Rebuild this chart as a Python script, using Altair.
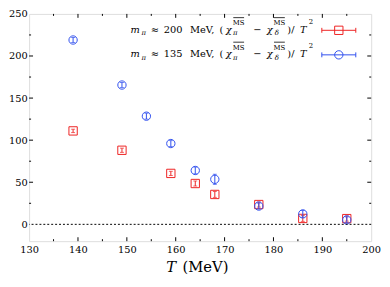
import altair as alt
import pandas as pd

# ---------------- data ----------------
T_200 = [139, 149, 159, 164, 168, 177, 186, 195]
V_200 = [111, 88, 60.5, 48.5, 35.5, 23.5, 7, 6.8]
E_200 = [2, 2.5, 2.5, 3, 3.5, 3, 3.5, 3]

T_135 = [139, 149, 154, 159, 164, 168, 177, 186, 195]
V_135 = [219, 165.5, 128.5, 96, 64, 53.5, 21.7, 12.4, 5.3]
E_135 = [3, 3, 3.5, 3.5, 4, 6, 3.5, 4, 3.5]

X_MAJOR = [130, 140, 150, 160, 170, 180, 190, 200]
X_MINOR = [135, 145, 155, 165, 175, 185, 195]
Y_MAJOR = [0, 50, 100, 150, 200, 250]
Y_MINOR = [25, 75, 125, 175, 225]

LEG_MASS = ["200", "135"]

# ---------------- styles ----------------
RED = "#ee2222"
BLUE = "#2f4fee"
SERIF = "DejaVu Serif"
PLOT_LEFT_PAGE = 29.5
PLOT_RIGHT_PAGE = 378.0
PLOT_TOP_PAGE = 11.5
W, H = PLOT_RIGHT_PAGE - PLOT_LEFT_PAGE, 231.5
REF_TOP_PAGE = 5.0

xs = alt.Scale(domain=[130, 200], nice=False, zero=False)
ys = alt.Scale(domain=[-20, 250], nice=False, zero=False)

xaxis = alt.Axis(values=X_MAJOR, title=None, ticks=False, domain=False, grid=False,
                 labelFont=SERIF, labelFontSize=10, labelColor="black",
                 labelPadding=4, format="d", labelFlush=False)
yaxis = alt.Axis(values=Y_MAJOR, title=None, ticks=False, domain=False, grid=False,
                 labelFont=SERIF, labelFontSize=10, labelColor="black",
                 labelPadding=2, format="d", labelFlush=False)


def X(f):
    return alt.X(f, scale=xs, axis=xaxis, title=None)


def Y(f):
    return alt.Y(f, scale=ys, axis=yaxis, title=None)


def series_df(T, V, E):
    d = pd.DataFrame({"T": T, "v": V, "e": E})
    d["lo"] = d["v"] - d["e"]
    d["hi"] = d["v"] + d["e"]
    return d


d200 = series_df(T_200, V_200, E_200)
d135 = series_df(T_135, V_135, E_135)

layers = []


def series_layers(d, color, shape, size):
    out = []
    out.append(alt.Chart(d).mark_point(shape=shape, filled=False, size=size, color=color,
                                       strokeWidth=1, opacity=1).encode(x=X("T:Q"), y=Y("v:Q")))
    out.append(alt.Chart(d).mark_rule(color=color, strokeWidth=1).encode(
        x=X("T:Q"), y=Y("lo:Q"), y2="hi:Q"))
    for f in ["lo", "hi"]:
        out.append(alt.Chart(d).mark_tick(color=color, orient="horizontal", size=4, thickness=1).encode(
            x=X("T:Q"), y=Y(f + ":Q")))
    return out


layers += series_layers(d200, RED, "square", 72)
layers += series_layers(d135, BLUE, "circle", 72)

# zero dotted line
zero_df = pd.DataFrame({"z": [0]})
layers.append(
    alt.Chart(zero_df).mark_rule(color="black", strokeWidth=1, strokeDash=[2, 2]).encode(y=Y("z:Q"))
)


# frame ticks (inward, all four sides)
def tick_layer(vals, side, length):
    d = pd.DataFrame({"t": vals})
    m = alt.Chart(d).mark_rule(color="black", strokeWidth=1)
    if side == "bottom":
        return m.encode(x=X("t:Q"), y=alt.value(H), y2=alt.value(H - length))
    if side == "top":
        return m.encode(x=X("t:Q"), y=alt.value(0), y2=alt.value(length))
    if side == "left":
        return m.encode(y=Y("t:Q"), x=alt.value(0), x2=alt.value(length))
    return m.encode(y=Y("t:Q"), x=alt.value(W), x2=alt.value(W - length))


for side in ["bottom", "top"]:
    layers.append(tick_layer(X_MAJOR[1:-1], side, 4))
    layers.append(tick_layer(X_MINOR, side, 2))
for side in ["left", "right"]:
    layers.append(tick_layer(Y_MAJOR[1:-1], side, 4))
    layers.append(tick_layer(Y_MINOR, side, 2))

ONE = alt.Data(values=[{}])


def txt(s, px, py, size, italic=False, align="center"):
    kw = dict(text=s, font=SERIF, fontSize=size, align=align, baseline="alphabetic", color="black")
    if italic:
        kw["fontStyle"] = "italic"
    return alt.Chart(ONE).mark_text(**kw).encode(x=alt.value(px), y=alt.value(py))


def hrule(x1, x2, y, color="black", w=1):
    return alt.Chart(ONE).mark_rule(color=color, strokeWidth=w).encode(
        x=alt.value(x1), x2=alt.value(x2), y=alt.value(y))


def vrule(x, y1, y2, color):
    return alt.Chart(ONE).mark_rule(color=color, strokeWidth=1).encode(
        x=alt.value(x), y=alt.value(y1), y2=alt.value(y2))


MS_, SS_ = 10, 7
for row, (mass, color, shape) in enumerate(zip(LEG_MASS, [RED, BLUE], ["square", "circle"])):
    base = 24.3 - REF_TOP_PAGE + 25 * row
    sym = 21.7 - REF_TOP_PAGE + 25 * row
    pieces = [
        ("m", 137.5, 0, MS_, True),
        ("π", 146.2, 2.5, SS_, True),
        ("≈", 157.5, 0, MS_, False),
        (mass, 176.2, 0, MS_, False),
        ("MeV,", 205.8, 0, MS_, False),
        ("(", 225.3, 0, MS_, False),
        ("χ", 232.8, 0, MS_, True),
        ("MS", 242.8, -7.6, SS_, False),
        ("π", 239.5, 2.5, SS_, True),
        ("−", 262.0, 0, MS_, False),
        ("χ", 274.5, 0, MS_, True),
        ("MS", 284.5, -7.6, SS_, False),
        ("δ", 281.8, 2.5, SS_, True),
        (")/", 296.2, 0, MS_, False),
        ("T", 308.7, 0, MS_, True),
        ("2", 316.5, -9.3, SS_, False),
    ]
    for s, cx, dy, fs, it in pieces:
        layers.append(txt(s, cx - PLOT_LEFT_PAGE, base + dy, fs, it))
    for a, b in [(237.5, 248.5), (279.0, 290.0)]:
        layers.append(hrule(a - PLOT_LEFT_PAGE, b - PLOT_LEFT_PAGE, base - 15.5, w=0.8))
    # legend symbol
    x1, x2 = 327.7 - PLOT_LEFT_PAGE, 362.3 - PLOT_LEFT_PAGE
    layers.append(hrule(x1, x2, sym, color=color))
    layers.append(vrule(x1, sym - 2.5, sym + 2.5, color))
    layers.append(vrule(x2, sym - 2.5, sym + 2.5, color))
    layers.append(alt.Chart(ONE).mark_point(shape=shape, filled=False, size=72, color=color,
                                            strokeWidth=1, opacity=1)
                  .encode(x=alt.value((x1 + x2) / 2), y=alt.value(sym)))

# x-axis title: T (MeV)
TB = 274.5 - PLOT_TOP_PAGE
layers.append(txt("T", 174.2 - PLOT_LEFT_PAGE, TB, 15, True))
layers.append(txt("(MeV)", 209.2 - PLOT_LEFT_PAGE, TB, 15, False))

chart = alt.layer(*layers).properties(
    width=W, height=H,
    autosize=alt.AutoSizeParams(type="none"),
    padding={"left": PLOT_LEFT_PAGE - 8, "top": PLOT_TOP_PAGE - 8, "right": 11, "bottom": 35},
).configure_view(stroke="black", strokeWidth=1).configure(background="white")

chart.save("out.html", embed_options={"renderer": "svg", "actions": False})
